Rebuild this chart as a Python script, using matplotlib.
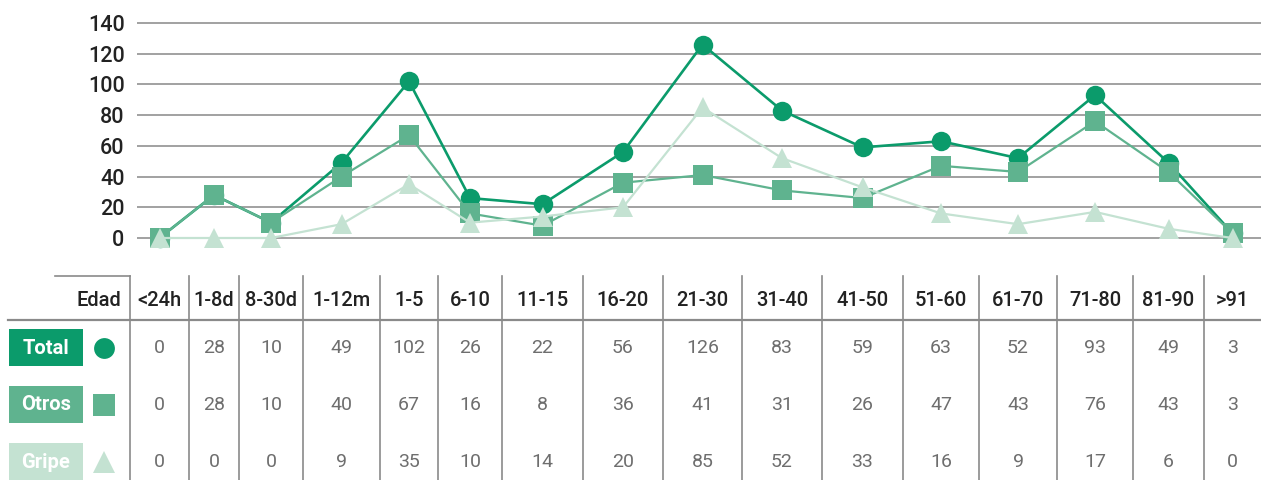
import numpy as np
import matplotlib.pyplot as plt

# ============================================================
# DATA
# ============================================================
edades = ['<24h', '1-8d', '8-30d', '1-12m', '1-5', '6-10', '11-15', '16-20',
          '21-30', '31-40', '41-50', '51-60', '61-70', '71-80', '81-90', '>91']
total = [0, 28, 10, 49, 102, 26, 22, 56, 126, 83, 59, 63, 52, 93, 49, 3]
otros = [0, 28, 10, 40, 67, 16, 8, 36, 41, 31, 26, 47, 43, 76, 43, 3]
gripe = [0, 0, 0, 9, 35, 10, 14, 20, 85, 52, 33, 16, 9, 17, 6, 0]
y_ticks = [0, 20, 40, 60, 80, 100, 120, 140]

# ============================================================
# LAYOUT (pixel units)
# ============================================================
W, H = 1261, 480
col_edges = np.array([130, 189, 239, 303, 380, 438, 502, 583, 663, 742,
                      822, 903, 979, 1057, 1133, 1204, 1261])
col_centers = (col_edges[:-1] + col_edges[1:]) / 2

series = [
    ('Total', total, '#0b9b6b', 'o', 14, 1.9),
    ('Otros', otros, '#5fb38f', 's', 15, 1.6),
    ('Gripe', gripe, '#c4e2d2', '^', 15, 1.6),
]
row_y = [348, 405, 462]

plt.rcParams['font.family'] = ['Roboto', 'DejaVu Sans']

fig = plt.figure(figsize=(W / 100, H / 100), dpi=100)

# ============================================================
# A. LINE CHART
# ============================================================
px_per_unit = (238 - 23) / 140
y_top_px, y_bot_px = 8, 252
x_left = 137
ax = fig.add_axes([x_left / W, 1 - y_bot_px / H,
                   (W - x_left) / W, (y_bot_px - y_top_px) / H])
ax.set_xlim(x_left, W)
ax.set_ylim(-(y_bot_px - 238) / px_per_unit, 140 + (23 - y_top_px) / px_per_unit)

for y in y_ticks:
    ax.axhline(y, color='#9a9a9a', linewidth=1.3, zorder=1)

for i, (name, vals, color, marker, ms, lw) in enumerate(series):
    ax.plot(col_centers, vals, color=color, linewidth=lw, marker=marker,
            markersize=ms, markeredgewidth=0, zorder=3 + i, clip_on=False)

ax.set_yticks(y_ticks)
ax.set_yticklabels([str(v) for v in y_ticks])
ax.tick_params(axis='y', length=0, pad=9, labelsize=15.5, labelcolor='#222222')
for lbl in ax.get_yticklabels():
    lbl.set_fontweight('medium')
ax.set_xticks([])
for s in ax.spines.values():
    s.set_visible(False)
ax.patch.set_alpha(0)

# ============================================================
# B. TABLE
# ============================================================
tab = fig.add_axes([0, 0, 1, 1], zorder=-1)
tab.set_xlim(0, W)
tab.set_ylim(H, 0)
tab.axis('off')

line_c = '#8a8a8a'
tab.plot([55, 130], [276, 276], color=line_c, linewidth=1.2)
tab.plot([8, W], [320, 320], color=line_c, linewidth=1.6)
for x in col_edges[:-1]:
    tab.plot([x, x], [276, H], color=line_c, linewidth=1.2)

tab.text(121, 300, 'Edad', ha='right', va='center', fontsize=14.5,
         fontweight='medium', color='#222222')
for xc, lab in zip(col_centers, edades):
    tab.text(xc, 300, lab, ha='center', va='center', fontsize=14.5,
             fontweight='medium', color='#222222')

for (name, vals, color, marker, ms, lw), yr in zip(series, row_y):
    tab.add_patch(plt.Rectangle((9, yr - 19), 74, 37, color=color, linewidth=0))
    tab.text(46, yr, name, ha='center', va='center', fontsize=14.5,
             fontweight='bold', color='white')
    tab.plot([104], [yr], marker=marker, color=color, markersize=ms + 1,
             markeredgewidth=0)
    for xc, v in zip(col_centers, vals):
        tab.text(xc, yr, str(v), ha='center', va='center', fontsize=14,
                 fontweight='normal', color='#6e6e6e')

plt.savefig('out.png', dpi=100)
